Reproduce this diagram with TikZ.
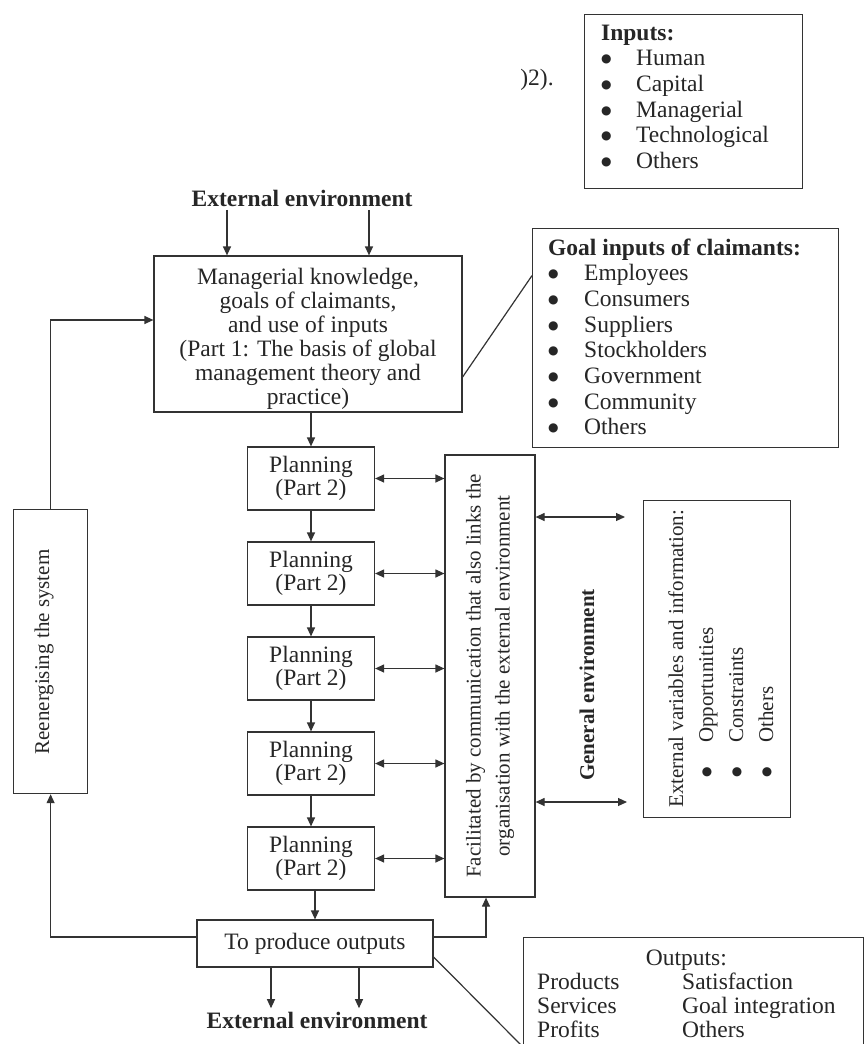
\documentclass[tikz,border=0pt]{standalone}
\usepackage{fontspec}
\setmainfont{Liberation Serif}
\newfontfamily\dotfont{DejaVu Sans}
\usetikzlibrary{arrows.meta,calc}

% a heavier list bullet
\newcommand{\lbul}{\raisebox{3pt}{\dotfont\fontsize{12}{12}\selectfont ●}}

\begin{document}
\begin{tikzpicture}[x=1pt,y=-1pt,
  box/.style={draw=black!80, line width=1.2pt, inner sep=0pt},
  plain/.style={draw=black!80, line width=1.2pt},
  arr/.style={plain, -{Triangle[length=9pt,width=8pt]}},
  darr/.style={plain, {Triangle[length=9pt,width=8pt]}-{Triangle[length=9pt,width=8pt]}},
  txt/.style={font=\fontsize{23.5}{24}\selectfont, text=black!85},
  rtxt/.style={font=\fontsize{21}{29}\selectfont, text=black!85},
]
\useasboundingbox (0,0) rectangle (866,1044);
\fill[white] (0,0) rectangle (866,1044);

% stray reference fragment at the top
\node[txt] (cite) at (537,80) {)2).};

% inputs list
\node[box, minimum width=218, minimum height=174, anchor=north west] (inputs) at (584,14) {};
\node[txt, anchor=base west, inner sep=0] (inputslist) at (601,40)
  {\fontsize{23.5}{25.7}\selectfont\begin{tabular}[t]{@{}p{35pt}@{}l@{}}
   \multicolumn{2}{@{}l@{}}{\textbf{Inputs:}}\\
   \lbul & Human\\ \lbul & Capital\\ \lbul & Managerial\\
   \lbul & Technological\\ \lbul & Others\end{tabular}};

% external environment above the system
\node[txt] (exttop) at (302,198) {\textbf{External environment}};

% managerial knowledge box
\node[box, minimum width=308, minimum height=156] (mainbox) at (308,334) {};
\node[txt, align=center] (maintext) at (308,339)
  {Managerial knowledge,\\ goals of claimants,\\ and use of inputs\\ (Part 1: The basis of global\\ management theory and\\ practice)};

\coordinate (ta1) at (227,0);
\coordinate (ta2) at (369,0);
\draw[arr] (exttop.south -| ta1) -- (ta1 |- mainbox.north);
\draw[arr] (exttop.south -| ta2) -- (ta2 |- mainbox.north);

% goal inputs of claimants
\node[box, minimum width=306, minimum height=219, anchor=north west] (goalbox) at (532,228) {};
\node[txt, anchor=base west, inner sep=0] (goallist) at (548,255)
  {\fontsize{23.5}{25.7}\selectfont\begin{tabular}[t]{@{}p{36pt}@{}l@{}}
   \multicolumn{2}{@{}l@{}}{\textbf{Goal inputs of claimants:}}\\
   \lbul & Employees\\ \lbul & Consumers\\ \lbul & Suppliers\\
   \lbul & Stockholders\\ \lbul & Government\\ \lbul & Community\\
   \lbul & Others\end{tabular}};
\draw[plain] ($(mainbox.east)+(0,43)$) -- ($(goalbox.west)+(0,-62.5)$);

% planning stages
\foreach \i/\yy in {1/478.5, 2/573.5, 3/668.5, 4/763.5, 5/858.5}
  \node[box, txt, font=\fontsize{23.5}{22.5}\selectfont, minimum width=127, minimum height=63, align=center]
    (p\i) at (311,\yy) {Planning\\(Part 2)};

\draw[arr] (mainbox.south -| p1.north) -- (p1.north);
\foreach \i/\j in {1/2, 2/3, 3/4, 4/5}
  \draw[arr] (p\i.south) -- (p\j.north);

% outputs stage
\node[box, txt, minimum width=236, minimum height=47] (toprod) at (315,943.5) {To produce outputs};
\draw[arr] (p5.south -| toprod.north) -- (toprod.north);

% communication column
\node[box, minimum width=90, minimum height=442] (facil) at (490,676) {};
\node[rtxt, rotate=90, align=center] (faciltext) at (facil.center)
  {Facilitated by communication that also links the\\ organisation with the external environment};
\foreach \i in {1,...,5}
  \draw[darr] (p\i.east) -- (p\i.east -| facil.west);

% general environment
\node[rtxt, rotate=90] (genenv) at (587,685) {\textbf{General environment}};
\coordinate (ge1) at (625,517);
\coordinate (ge2) at (627,802);
\draw[darr] (facil.east |- ge1) -- (ge1);
\draw[darr] (facil.east |- ge2) -- (ge2);

% external variables
\node[box, minimum width=147, minimum height=317, anchor=north west] (extbox) at (643,500) {};
\node[rtxt, rotate=90, anchor=base west, inner sep=0] (exttext) at (683,808)
  {\fontsize{21}{30}\selectfont\begin{tabular}[t]{@{}l@{}}
   External variables and information:\\
   \hspace*{30pt}\makebox[35pt][l]{\lbul}Opportunities\\
   \hspace*{30pt}\makebox[35pt][l]{\lbul}Constraints\\
   \hspace*{30pt}\makebox[35pt][l]{\lbul}Others\end{tabular}};

% feedback loop
\node[box, minimum width=74, minimum height=284, anchor=north west] (reen) at (13,509) {};
\node[rtxt, rotate=90] (reentext) at (44,652) {Reenergising the system};
\coordinate (inpt) at ($(mainbox.west)+(0,-14)$);
\draw[arr] (reen.north) |- (inpt);
\coordinate (tpl) at ($(toprod.west)+(0,-6.5)$);
\coordinate (tpr) at ($(toprod.east)+(0,-6.5)$);
\draw[arr] (tpl) -| (reen.south);
\draw[arr] (tpr) -| ($(facil.south)+(-4,0)$);

% external environment below the system
\node[txt] (extbot) at (317,1020) {\textbf{External environment}};
\coordinate (ba1) at (271,0);
\coordinate (ba2) at (359,0);
\draw[arr] (toprod.south -| ba1) -- (ba1 |- extbot.north);
\draw[arr] (toprod.south -| ba2) -- (ba2 |- extbot.north);

% outputs
\node[box, minimum width=340, minimum height=130, anchor=north west] (outbox) at (523,937) {};
\node[txt, anchor=base west, inner sep=0] (outtxt) at (537,965)
  {\fontsize{23.5}{24}\selectfont\begin{tabular}[t]{@{}p{145pt}@{}l@{}}
   \multicolumn{2}{@{}c@{}}{Outputs:}\\
   Products & Satisfaction\\ Services & Goal integration\\ Profits & Others\end{tabular}};
\draw[plain] ($(toprod.east)+(0,13.5)$) -- ($(outbox.north west)+(0,110)$);

\end{tikzpicture}
\end{document}
